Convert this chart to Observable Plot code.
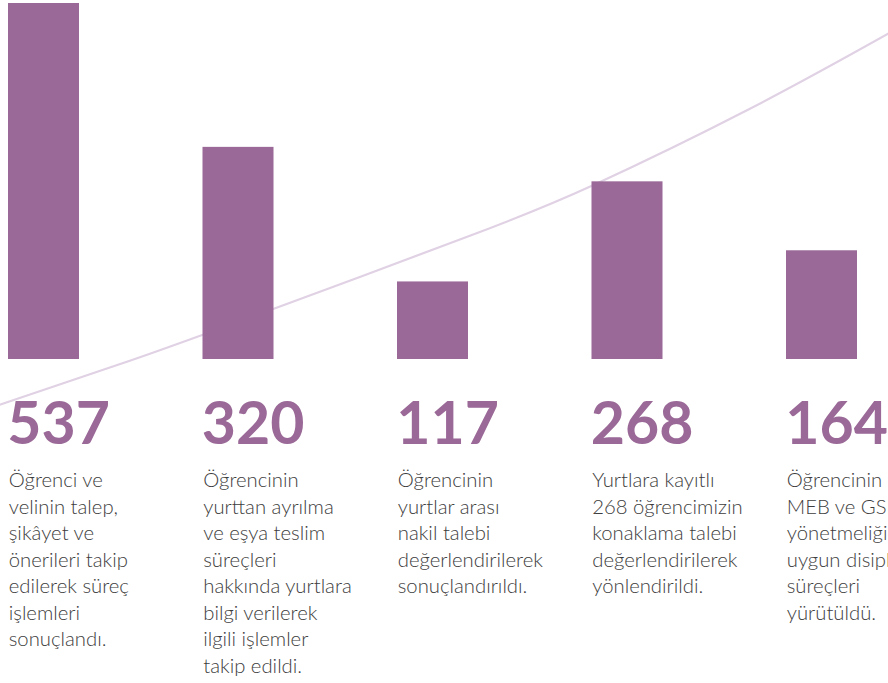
<!DOCTYPE html>
<html>
<head>
<meta charset="utf-8">
<script src="https://cdn.jsdelivr.net/npm/d3@7"></script>
<script src="https://cdn.jsdelivr.net/npm/@observablehq/plot@0.6"></script>
<style>
  html, body { margin: 0; padding: 0; background: #fff; overflow: hidden; }
  #chart { width: 888px; height: 683px; overflow: hidden; }
</style>
</head>
<body>
<div id="chart"></div>
<script>
// Bar values (one per column)
const values = [537, 320, 117, 268, 164];
const numberLabels = ["537", "320", "117", "268", "164"];
const descriptions = [
  "Öğrenci ve\nvelinin talep,\nşikâyet ve\nönerileri takip\nedilerek süreç\nişlemleri\nsonuçlandı.",
  "Öğrencinin\nyurttan ayrılma\nve eşya teslim\nsüreçleri\nhakkında yurtlara\nbilgi verilerek\nilgili işlemler\ntakip edildi.",
  "Öğrencinin\nyurtlar arası\nnakil talebi\ndeğerlendirilerek\nsonuçlandırıldı.",
  "Yurtlara kayıtlı\n268 öğrencimizin\nkonaklama talebi\ndeğerlendirilerek\nyönlendirildi.",
  "Öğrencinin\nMEB ve GSB\nyönetmeliğine\nuygun disiplin\nsüreçleri\nyürütüldü."
];
// Decorative rising curve (x in column units, y in value units)
const curveX = [0.276, 0.945, 1.685, 2.693, 3.320, 4.132, 4.842];
const curveY = [-67.9, -1.5, 76.9, 187.0, 262.5, 378.6, 491.7];

const bars = values.map((v, i) => ({i, v, label: numberLabels[i], desc: descriptions[i]}));
const curve = curveX.map((x, k) => ({x, y: curveY[k]}));

const purple = "#9a6997";
const plot = Plot.plot({
  width: 888,
  height: 683,
  margin: 0,
  style: {background: "#fff", overflow: "hidden"},
  x: {domain: [0, 5], range: [-53.75, 918.75], axis: null},
  y: {domain: [0, 537], range: [359, 3], axis: null},
  marks: [
    Plot.line(curve, {x: "x", y: "y", curve: "natural", stroke: "#e0d2e4", strokeWidth: 2.2}),
    Plot.rectY(bars, {x: "i", interval: 1, y: "v", fill: purple, insetLeft: 61.75, insetRight: 61.75}),
    Plot.text(bars, {x: "i", y: () => 0, text: "label", textAnchor: "start", lineAnchor: "top",
      dx: 60.5, dy: 43, fontSize: 59, fontWeight: 700, fontFamily: "Lato", fill: purple}),
    Plot.text(bars, {x: "i", y: () => 0, text: "desc", textAnchor: "start", lineAnchor: "top",
      dx: 62, dy: 109, fontSize: 20.3, fontWeight: 300, fontFamily: "Lato", fill: "#3d3d3d", lineHeight: 1.305})
  ]
});
document.getElementById("chart").appendChild(plot);
</script>
</body>
</html>
